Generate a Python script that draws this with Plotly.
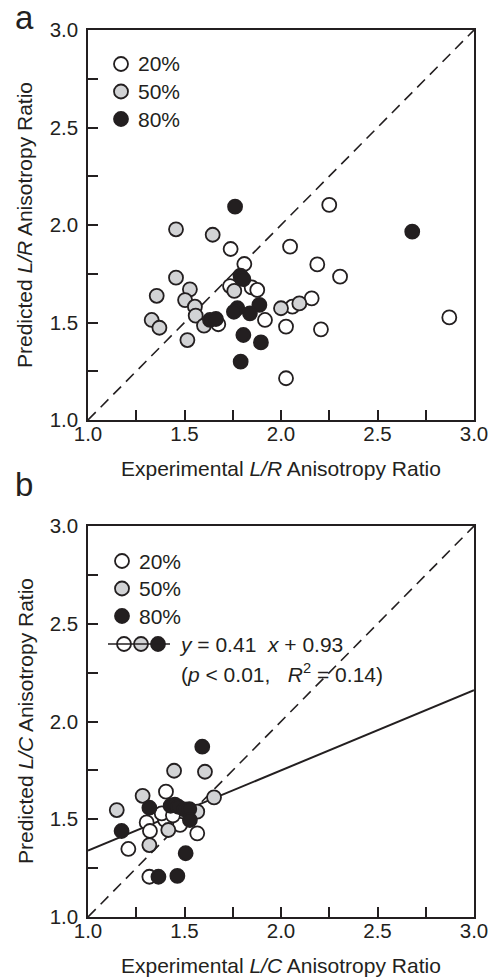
import plotly.graph_objects as go

# ---------------- data ----------------
# Panel a: L/R anisotropy ratio (experimental x, predicted y)
a_20_x = [1.739, 1.810, 1.736, 1.848, 1.877, 1.675, 1.917, 2.026, 2.026, 2.059, 2.159, 2.047, 2.250, 2.188, 2.306, 2.872, 2.207]
a_20_y = [1.877, 1.800, 1.687, 1.680, 1.667, 1.491, 1.513, 1.479, 1.214, 1.581, 1.624, 1.889, 2.103, 1.798, 1.735, 1.526, 1.465]
a_50_x = [1.456, 1.646, 1.456, 1.758, 1.528, 1.356, 1.503, 1.554, 1.558, 1.330, 1.370, 1.601, 1.515, 2.000, 2.095]
a_50_y = [1.978, 1.950, 1.730, 1.662, 1.670, 1.637, 1.615, 1.581, 1.535, 1.513, 1.473, 1.484, 1.410, 1.573, 1.598]
a_80_x = [1.762, 1.790, 1.805, 1.774, 1.888, 1.756, 1.839, 1.632, 1.663, 1.805, 1.896, 1.791, 2.680]
a_80_y = [2.094, 1.740, 1.722, 1.573, 1.590, 1.555, 1.547, 1.513, 1.518, 1.436, 1.398, 1.299, 1.966]

# Panel b: L/C anisotropy ratio
b_20_x = [1.404, 1.304, 1.321, 1.399, 1.477, 1.566, 1.209, 1.318, 1.382, 1.440]
b_20_y = [1.641, 1.484, 1.440, 1.496, 1.471, 1.428, 1.348, 1.206, 1.530, 1.520]
b_50_x = [1.446, 1.606, 1.653, 1.283, 1.149, 1.566, 1.416, 1.318]
b_50_y = [1.748, 1.743, 1.612, 1.620, 1.547, 1.539, 1.445, 1.368]
b_80_x = [1.592, 1.318, 1.428, 1.450, 1.468, 1.500, 1.525, 1.528, 1.174, 1.365, 1.463, 1.506]
b_80_y = [1.871, 1.559, 1.569, 1.575, 1.564, 1.550, 1.552, 1.496, 1.440, 1.206, 1.210, 1.326]

# regression for panel b
fit_slope = 0.41
fit_intercept = 0.93
axis_min, axis_max = 1.0, 3.0

group_labels = ["20%", "50%", "80%"]

# ---------------- style ----------------
INK = "#231f20"
FILLS = ["#ffffff", "#d2d3d5", "#231f20"]
FONT = "Liberation Sans, Arial, Helvetica, sans-serif"
W, H = 494, 977
MS = 14

fig = go.Figure()

def add_points(xs, ys, fill, xa, ya):
    fig.add_trace(go.Scatter(
        x=xs, y=ys, mode="markers", xaxis=xa, yaxis=ya,
        marker=dict(size=MS, color=fill, line=dict(color=INK, width=1.8)),
        showlegend=False, hoverinfo="skip"))

# diagonal y = x reference lines
for xa, ya in (("x", "y"), ("x2", "y2")):
    fig.add_trace(go.Scatter(
        x=[axis_min, axis_max], y=[axis_min, axis_max], mode="lines",
        xaxis=xa, yaxis=ya, line=dict(color=INK, width=1.6, dash="11px,7px"),
        showlegend=False, hoverinfo="skip"))

# regression line panel b
fig.add_trace(go.Scatter(
    x=[axis_min, axis_max],
    y=[fit_slope * axis_min + fit_intercept, fit_slope * axis_max + fit_intercept],
    mode="lines", xaxis="x2", yaxis="y2",
    line=dict(color=INK, width=2), showlegend=False, hoverinfo="skip"))

for xs, ys, f in ((a_20_x, a_20_y, FILLS[0]), (a_50_x, a_50_y, FILLS[1]), (a_80_x, a_80_y, FILLS[2])):
    add_points(xs, ys, f, "x", "y")
for xs, ys, f in ((b_20_x, b_20_y, FILLS[0]), (b_50_x, b_50_y, FILLS[1]), (b_80_x, b_80_y, FILLS[2])):
    add_points(xs, ys, f, "x2", "y2")

def px_x(p):
    return p / W

def px_y(p):
    return 1 - p / H

# plot area pixel boxes
A_L, A_R, A_T, A_B = 88, 474, 30, 420
B_L, B_R, B_T, B_B = 88, 474, 526, 917

axis_common = dict(
    range=[axis_min, axis_max], dtick=0.5, tick0=1, tickformat=".1f",
    ticks="inside", ticklen=10, tickwidth=1.5, tickcolor=INK,
    minor=dict(dtick=0.25, ticks="inside", ticklen=10, tickwidth=1.5, tickcolor=INK),
    showline=True, linecolor=INK, linewidth=1.5, mirror=True,
    showgrid=False, zeroline=False, fixedrange=True, automargin=False,
    tickfont=dict(family=FONT, size=20.5, color=INK),
)

fig.update_layout(
    width=W, height=H, margin=dict(l=0, r=0, t=0, b=0, autoexpand=False),
    paper_bgcolor="white", plot_bgcolor="white", showlegend=False,
    xaxis=dict(domain=[px_x(A_L), px_x(A_R)], anchor="y", ticklabelstandoff=-5, **axis_common),
    yaxis=dict(domain=[px_y(A_B), px_y(A_T)], anchor="x", ticklabelstandoff=4, **axis_common),
    xaxis2=dict(domain=[px_x(B_L), px_x(B_R)], anchor="y2", ticklabelstandoff=-5, **axis_common),
    yaxis2=dict(domain=[px_y(B_B), px_y(B_T)], anchor="x2", ticklabelstandoff=4, **axis_common),
)

shapes = []
annotations = []

def legend_circle(cx, cy, fill):
    shapes.append(dict(
        type="circle", xref="paper", yref="paper",
        xsizemode="pixel", ysizemode="pixel",
        xanchor=px_x(cx), yanchor=px_y(cy),
        x0=-7, x1=7, y0=-7, y1=7,
        fillcolor=fill, line=dict(color=INK, width=1.8)))

def text(x, y, s, size=21, xanchor="left", angle=0):
    annotations.append(dict(
        x=px_x(x), y=px_y(y), xref="paper", yref="paper", text=s,
        showarrow=False, xanchor=xanchor, yanchor="middle", textangle=angle,
        font=dict(family=FONT, size=size, color=INK)))

# legends
for i, lab in enumerate(group_labels):
    legend_circle(121, 64 + 27.5 * i, FILLS[i])
    text(136, 64 + 27.5 * i, lab)
    legend_circle(122, 561 + 27.5 * i, FILLS[i])
    text(137, 561 + 27.5 * i, lab)

# fit legend entry: circles then the line drawn through them
for cx, f in zip((124, 141, 158), FILLS):
    legend_circle(cx, 644, f)
shapes.append(dict(type="line", xref="paper", yref="paper",
                   x0=px_x(108), x1=px_x(170), y0=px_y(644), y1=px_y(644),
                   line=dict(color=INK, width=1.6)))
text(177, 644, "<i>y</i> = %.2f  <i>x</i> + %.2f" % (fit_slope, fit_intercept))
text(179, 673, "(<i>p</i> < 0.01,   <i>R</i><sup>2</sup> = 0.14)")

# panel letters
text(24, 17, "a", size=33, xanchor="center")
text(24, 484, "b", size=33, xanchor="center")

# axis titles
text(281, 468, "Experimental <i>L/R</i> Anisotropy Ratio", size=21, xanchor="center")
text(281, 965, "Experimental <i>L/C</i> Anisotropy Ratio", size=21, xanchor="center")
text(25, 225, "Predicted <i>L/R</i> Anisotropy Ratio", size=21, xanchor="center", angle=-90)
text(25, 721, "Predicted <i>L/C</i> Anisotropy Ratio", size=21, xanchor="center", angle=-90)

fig.update_layout(shapes=shapes, annotations=annotations)
fig.write_html(
    "out.html",
    config={"displayModeBar": False},
    post_script="document.body.style.margin='0';document.body.style.overflow='hidden';",
)
